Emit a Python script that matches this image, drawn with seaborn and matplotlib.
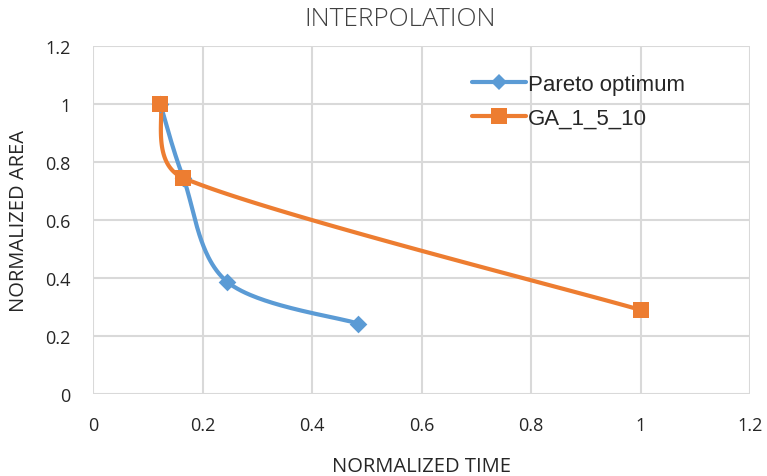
import numpy as np
import pandas as pd
import matplotlib
matplotlib.use("Agg")
import matplotlib.pyplot as plt
from matplotlib.lines import Line2D
import seaborn as sns

# Series values
pareto_time = [0.123, 0.165, 0.245, 0.484]
pareto_area = [1.0, 0.745, 0.387, 0.243]
ga_time = [0.123, 0.165, 1.0]
ga_area = [1.0, 0.745, 0.29]

series_names = ["Pareto optimum", "GA_1_5_10"]
ticks = [0, 0.2, 0.4, 0.6, 0.8, 1, 1.2]
tick_labels = ["0", "0.2", "0.4", "0.6", "0.8", "1", "1.2"]

BLUE = "#5B9BD5"
ORANGE = "#ED7D31"
GRID = "#D9D9D9"
TEXT = "#262626"

sns.set_theme(style="white")
plt.rcParams["font.family"] = ["Open Sans", "DejaVu Sans"]


def smooth(xs, ys, sx=547.5, sy=290.0, k=0.45, n=60):
    """Catmull-Rom style Bezier smoothing in screen units; each control arm is
    capped relative to the length of its own segment."""
    P = np.column_stack([np.asarray(xs) * sx, np.asarray(ys) * sy])
    m = len(P)

    def arm(i):
        a = P[i - 1] if i > 0 else P[i]
        b = P[i + 1] if i < m - 1 else P[i]
        return (b - a) / 6.0

    def capped(v, L):
        n_ = np.linalg.norm(v)
        lim = k * L
        return v if n_ <= lim else v * (lim / n_)

    out = []
    for i in range(m - 1):
        p1, p2 = P[i], P[i + 1]
        L = np.linalg.norm(p2 - p1)
        c1 = p1 + capped(arm(i), L)
        c2 = p2 - capped(arm(i + 1), L)
        t = np.linspace(0, 1, n)[:, None]
        seg = ((1 - t) ** 3) * p1 + 3 * ((1 - t) ** 2) * t * c1 + 3 * (1 - t) * t ** 2 * c2 + t ** 3 * p2
        if i > 0:
            seg = seg[1:]
        out.append(seg)
    pts = np.vstack(out)
    return pts[:, 0] / sx, pts[:, 1] / sy


fig = plt.figure(figsize=(7.67, 4.77), dpi=100)
ax = fig.add_axes([93 / 767, 82 / 477, 657 / 767, 348 / 477])

series = [
    (series_names[0], pareto_time, pareto_area, BLUE, "D", 9),
    (series_names[1], ga_time, ga_area, ORANGE, "s", 11.5),
]

for name, xs, ys, color, marker, ms in series:
    cx, cy = smooth(xs, ys)
    curve = pd.DataFrame({"t": cx, "a": cy})
    sns.lineplot(data=curve, x="t", y="a", sort=False, color=color, lw=3, ax=ax,
                 estimator=None, zorder=3)
    pts = pd.DataFrame({"t": xs, "a": ys})
    sns.scatterplot(data=pts, x="t", y="a", color=color, marker=marker, s=ms ** 2,
                    edgecolor=color, linewidth=0, ax=ax, zorder=4)

ax.set_xlim(0, 1.2)
ax.set_ylim(0, 1.2)
ax.set_xticks(ticks)
ax.set_xticklabels(tick_labels)
ax.set_yticks(ticks)
ax.set_yticklabels(tick_labels)
ax.grid(True, color=GRID, lw=1.5)
ax.set_axisbelow(True)
for s in ax.spines.values():
    s.set_visible(False)
ax.tick_params(axis="x", length=0, labelsize=13, colors=TEXT, pad=16)
ax.tick_params(axis="y", length=0, labelsize=13, colors=TEXT, pad=16)

ax.set_xlabel("NORMALIZED TIME", fontsize=14.5, color=TEXT, labelpad=16)
ax.set_ylabel("NORMALIZED AREA", fontsize=14.5, color=TEXT, labelpad=12)
fig.text(400 / 767, 1 - 20 / 477, "INTERPOLATION", ha="center", va="center",
         fontsize=19, color="#404040", fontweight="light")

handles = [
    Line2D([0], [0], color=BLUE, lw=3, marker="D", markersize=8.5, markeredgewidth=0),
    Line2D([0], [0], color=ORANGE, lw=3, marker="s", markersize=11, markeredgewidth=0),
]
ax.legend(handles, series_names, loc="upper left", bbox_to_anchor=(0.547, 0.978),
          frameon=False, handlelength=2.4, handletextpad=0.1,
          labelspacing=0.6, prop={"family": "Liberation Sans", "size": 16})

fig.savefig("out.png", dpi=100)
